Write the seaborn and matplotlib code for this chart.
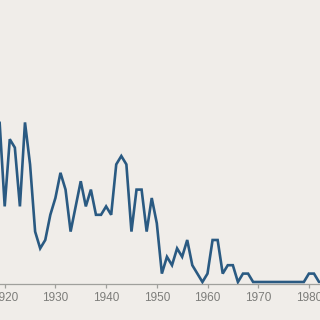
import matplotlib
matplotlib.use("Agg")
import matplotlib.pyplot as plt
import seaborn as sns
import pandas as pd

years = list(range(1919, 1983))
values = [
    19, 9, 17, 16, 9, 19, 14, 6, 4, 5,      # 1919-1928
    8, 10, 13, 11, 6, 9, 12, 9, 11, 8,      # 1929-1938
    8, 9, 8, 14, 15, 14, 6, 11, 11, 6,      # 1939-1948
    10, 7, 1, 3, 2, 4, 3, 5, 2, 1,          # 1949-1958
    0, 1, 5, 5, 1, 2, 2, 0, 1, 1,           # 1959-1968
    0, 0, 0, 0, 0, 0, 0, 0, 0, 0,           # 1969-1978
    0, 1, 1, 0,                             # 1979-1982
]
tick_years = [1920, 1930, 1940, 1950, 1960, 1970, 1980]
tick_labels = [str(y) for y in tick_years]

df = pd.DataFrame({"year": years, "value": values})

sns.set_style("white")
bg = "#f0ede9"
fig = plt.figure(figsize=(3.2, 3.2), dpi=100, facecolor=bg)
ax = fig.add_axes([0, 36 / 320, 1, 284 / 320])
ax.set_facecolor(bg)

sns.lineplot(data=df, x="year", y="value", ax=ax, color="#2a5a82",
             linewidth=1.9, solid_joinstyle="miter")

px_per_year = 5.07
x0 = 1920 - 4.7 / px_per_year
ax.set_xlim(x0, x0 + 320 / px_per_year)
unit = 8.4
ax.set_ylim(-2 / unit, 282 / unit)

for s in ["top", "right", "left"]:
    ax.spines[s].set_visible(False)
ax.spines["bottom"].set_color("#a0a09c")
ax.spines["bottom"].set_linewidth(0.9)
ax.set_yticks([])
ax.set_xticks(tick_years)
ax.set_xticklabels(tick_labels, fontfamily="Liberation Sans", fontsize=8.5,
                   color="#7d7d7a")
ax.tick_params(axis="x", direction="out", length=3, width=0.9,
               color="#a0a09c", pad=3, bottom=True)
ax.set_xlabel("")
ax.set_ylabel("")

fig.savefig("out.png", dpi=100, facecolor=bg)
